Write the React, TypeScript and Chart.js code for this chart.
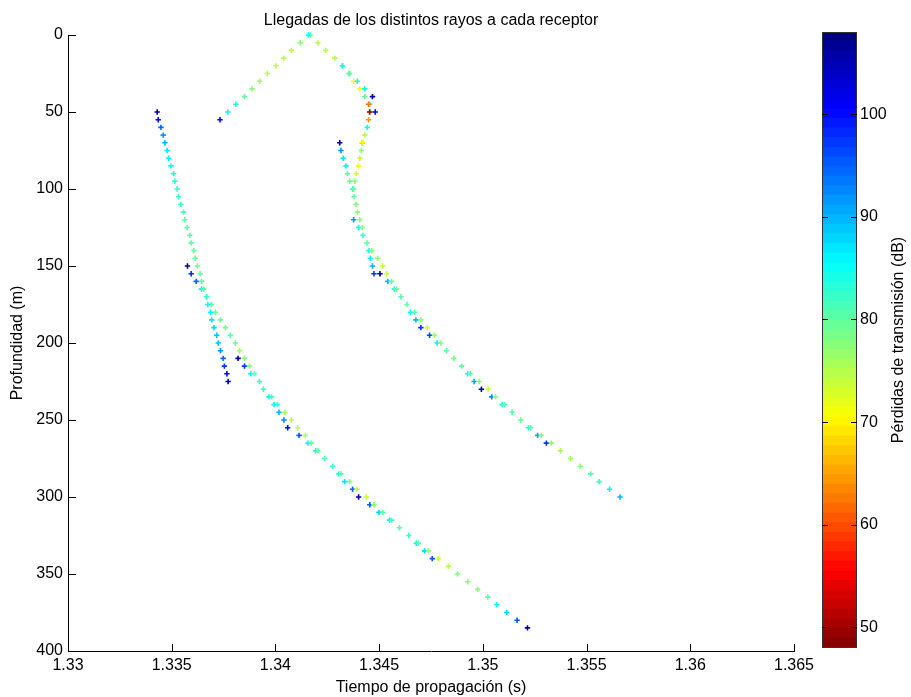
import React, { useEffect, useRef } from 'react';
import { Chart, registerables } from 'chart.js';

Chart.register(...registerables);

// ---------------- DATA ----------------
const xTicks = [1.33, 1.335, 1.34, 1.345, 1.35, 1.355, 1.36, 1.365];
const yTicks = [0, 50, 100, 150, 200, 250, 300, 350, 400];
const cbTicks = [50, 60, 70, 80, 90, 100];
const LOSS_MIN = 48;
const LOSS_MAX = 108;

// Rayo 1: rama superior izquierda
const rayo1Prof = [0, 5, 10, 15, 20, 25, 30, 35, 40, 45, 50, 55];
const rayo1Tiempo = [1.34159, 1.3412, 1.34077, 1.3404, 1.34003, 1.33961, 1.33924, 1.33887, 1.33851, 1.33809, 1.3377, 1.33733];
const rayo1Perdidas = [85, 78, 75, 75, 75, 75, 77, 78, 79, 83, 86, 100];

// Rayo 2: rama superior derecha exterior
const rayo2Prof = [0, 5, 10, 15, 20, 25, 30, 35, 40];
const rayo2Tiempo = [1.34168, 1.34205, 1.34242, 1.34286, 1.34324, 1.34354, 1.34395, 1.34431, 1.34468];
const rayo2Perdidas = [79, 75, 75, 76, 84, 80, 85, 86, 106];

// Rayo 3: curva principal derecha
const rayo3Prof = [20, 25, 30, 35, 40, 45, 50, 55, 60, 65, 70, 75, 80, 85, 90, 95, 100, 105, 110, 115, 120, 125, 130, 135, 140, 145, 150, 155, 160, 165, 170, 175, 180, 185, 190, 195, 200, 205, 210, 215, 220, 225, 230, 235, 240, 245, 250, 255, 260, 265, 270, 275, 280, 285, 290, 295, 300];
const rayo3Tiempo = [1.34322, 1.34358, 1.34377, 1.34406, 1.34431, 1.34449, 1.34454, 1.34449, 1.34443, 1.34431, 1.34419, 1.34414, 1.34407, 1.34401, 1.3439, 1.34383, 1.34377, 1.34379, 1.34388, 1.34395, 1.34407, 1.34419, 1.34422, 1.34441, 1.34465, 1.34493, 1.34517, 1.34536, 1.34559, 1.34584, 1.34605, 1.34634, 1.34671, 1.34701, 1.34732, 1.34767, 1.34797, 1.34825, 1.3486, 1.34898, 1.34939, 1.34982, 1.35026, 1.35061, 1.35104, 1.35141, 1.35183, 1.35231, 1.35282, 1.3533, 1.35374, 1.35422, 1.3547, 1.3552, 1.35561, 1.35611, 1.35661];
const rayo3Perdidas = [80, 80, 71, 71, 79, 63, 50, 64, 85, 75, 71, 78, 74, 71, 74, 78, 79, 79, 78, 78, 78, 78, 82, 79, 78, 77, 74, 74, 79, 79, 80, 79, 80, 78, 74, 77, 78, 80, 79, 80, 80, 78, 74, 78, 80, 80, 79, 80, 78, 78, 76, 77, 78, 80, 82, 86, 90];

// Rayo 4: rama interior derecha
const rayo4Prof = [70, 75, 80, 85, 90, 95, 100];
const rayo4Tiempo = [1.3431, 1.34316, 1.34327, 1.3434, 1.34347, 1.34358, 1.34372];
const rayo4Perdidas = [106, 92, 87, 86, 80, 79, 84];

// Rayo 5: llegadas adelantadas sobre la curva derecha
const rayo5Prof = [120, 125, 140, 145, 150, 155, 160, 165, 180, 185, 190, 195, 200, 220, 225, 230, 235, 240, 255, 260, 265];
const rayo5Tiempo = [1.34377, 1.34401, 1.34451, 1.34457, 1.34468, 1.34475, 1.34542, 1.34573, 1.34651, 1.34677, 1.34701, 1.34743, 1.3478, 1.34927, 1.34958, 1.34993, 1.35043, 1.35093, 1.3522, 1.35264, 1.35306];
const rayo5Perdidas = [92, 85, 85, 86, 90, 97, 90, 85, 85, 90, 97, 96, 86, 85, 91, 106, 93, 85, 84, 91, 97];

// Rayo 6: llegadas sueltas
const rayo6Prof = [45, 50, 50, 70, 155];
const rayo6Tiempo = [1.34455, 1.34459, 1.34481, 1.34419, 1.34504];
const rayo6Perdidas = [80, 79, 100, 93, 106];

// Rayo 7: curva principal izquierda
const rayo7Prof = [50, 55, 60, 65, 70, 75, 80, 85, 90, 95, 100, 105, 110, 115, 120, 125, 130, 135, 140, 145, 150, 155, 160, 165, 170, 175, 180, 185, 190, 195, 200, 205, 210, 215, 220, 225];
const rayo7Tiempo = [1.3343, 1.33435, 1.33448, 1.33459, 1.33467, 1.33478, 1.33485, 1.33496, 1.33509, 1.33515, 1.33526, 1.33533, 1.33544, 1.33557, 1.33563, 1.33574, 1.33587, 1.33594, 1.33607, 1.33613, 1.33624, 1.33637, 1.33644, 1.33655, 1.33668, 1.33674, 1.33687, 1.33693, 1.33704, 1.33717, 1.33724, 1.33735, 1.33748, 1.33754, 1.33766, 1.33772];
const rayo7Perdidas = [106, 100, 94, 92, 90, 87, 86, 85, 83, 83, 82, 82, 82, 81, 80, 80, 80, 80, 79, 79, 79, 79, 80, 80, 82, 85, 86, 87, 88, 89, 89, 92, 94, 97, 100, 105];

// Rayo 8: curva inferior izquierda
const rayo8Prof = [150, 155, 160, 165, 170, 175, 180, 185, 190, 195, 200, 205, 210, 215, 220, 225, 230, 235, 240, 245, 250, 255, 260, 265, 270, 275, 280, 285, 290, 295, 300, 305, 310, 315, 320, 325, 330, 335, 340, 345, 350, 355, 360, 365, 370, 375, 380, 385];
const rayo8Tiempo = [1.33576, 1.33594, 1.33618, 1.33644, 1.33668, 1.33692, 1.33711, 1.33735, 1.33759, 1.33783, 1.33807, 1.33827, 1.33851, 1.33875, 1.33899, 1.33923, 1.33942, 1.33981, 1.3401, 1.34046, 1.34077, 1.34107, 1.34144, 1.34173, 1.34205, 1.34237, 1.34276, 1.34316, 1.34358, 1.34393, 1.34438, 1.34475, 1.34517, 1.3456, 1.34598, 1.34643, 1.34689, 1.34738, 1.34786, 1.34834, 1.34878, 1.34927, 1.34975, 1.35024, 1.35067, 1.35115, 1.35165, 1.35215];
const rayo8Perdidas = [106, 98, 94, 87, 82, 79, 79, 79, 79, 80, 79, 77, 78, 78, 80, 82, 82, 82, 83, 76, 75, 75, 75, 79, 79, 80, 82, 80, 78, 75, 74, 78, 80, 81, 80, 82, 80, 78, 74, 75, 78, 78, 78, 80, 85, 88, 95, 106];

// Rayo 9: llegadas adelantadas sobre la curva izquierda
const rayo9Prof = [210, 215, 220, 235, 240, 245, 250, 255, 260, 265, 270, 285, 290, 295, 300, 305, 310, 315, 330, 335, 340];
const rayo9Tiempo = [1.3382, 1.33851, 1.33881, 1.33969, 1.33993, 1.34017, 1.34041, 1.34059, 1.34114, 1.34157, 1.34194, 1.34305, 1.34334, 1.34372, 1.34401, 1.34455, 1.34499, 1.3455, 1.34679, 1.34719, 1.34756];
const rayo9Perdidas = [106, 97, 86, 86, 86, 90, 93, 100, 95, 86, 86, 84, 87, 94, 106, 95, 88, 86, 86, 88, 95];

const rayos = [
  { prof: rayo1Prof, t: rayo1Tiempo, loss: rayo1Perdidas },
  { prof: rayo2Prof, t: rayo2Tiempo, loss: rayo2Perdidas },
  { prof: rayo3Prof, t: rayo3Tiempo, loss: rayo3Perdidas },
  { prof: rayo4Prof, t: rayo4Tiempo, loss: rayo4Perdidas },
  { prof: rayo5Prof, t: rayo5Tiempo, loss: rayo5Perdidas },
  { prof: rayo6Prof, t: rayo6Tiempo, loss: rayo6Perdidas },
  { prof: rayo7Prof, t: rayo7Tiempo, loss: rayo7Perdidas },
  { prof: rayo8Prof, t: rayo8Tiempo, loss: rayo8Perdidas },
  { prof: rayo9Prof, t: rayo9Tiempo, loss: rayo9Perdidas },
];

// ---------------- COLOURS ----------------
const NLEVELS = 64;
const clamp01 = (v: number) => Math.max(0, Math.min(1, v));
function jet(p: number): string {
  const r = clamp01(1.5 - Math.abs(4 * p - 3));
  const g = clamp01(1.5 - Math.abs(4 * p - 2));
  const b = clamp01(1.5 - Math.abs(4 * p - 1));
  return `rgb(${Math.round(r * 255)},${Math.round(g * 255)},${Math.round(b * 255)})`;
}
function lossColor(v: number): string {
  const p = (LOSS_MAX - v) / (LOSS_MAX - LOSS_MIN);
  const idx = Math.max(0, Math.min(NLEVELS - 1, Math.floor(p * NLEVELS)));
  return jet((idx + 0.5) / NLEVELS);
}

const FONT = "'Liberation Sans', Arial, Helvetica, sans-serif";
const font16 = { family: FONT, size: 16, weight: 'normal' as const, lineHeight: 1.2 };
const fmt = (v: number) => String(parseFloat(Number(v).toFixed(4)));

const mainTicksPlugin = {
  id: 'mainInwardTicks',
  afterDraw(chart: any) {
    const { ctx, chartArea, scales } = chart;
    ctx.save();
    ctx.strokeStyle = '#000';
    ctx.lineWidth = 1;
    ctx.beginPath();
    xTicks.forEach((v) => {
      const px = Math.round(scales.x.getPixelForValue(v)) + 0.5;
      ctx.moveTo(px, chartArea.bottom);
      ctx.lineTo(px, chartArea.bottom - 7);
    });
    yTicks.forEach((v) => {
      const py = Math.round(scales.y.getPixelForValue(v)) + 0.5;
      ctx.moveTo(chartArea.left, py);
      ctx.lineTo(chartArea.left + 8, py);
    });
    ctx.stroke();
    ctx.restore();
  },
};

const cbPlugin = {
  id: 'colorbarDecor',
  afterDraw(chart: any) {
    const { ctx, chartArea, scales } = chart;
    ctx.save();
    ctx.strokeStyle = '#333';
    ctx.lineWidth = 1;
    ctx.strokeRect(
      Math.round(chartArea.left) + 0.5,
      Math.round(chartArea.top) + 0.5,
      Math.round(chartArea.right - chartArea.left) - 1,
      Math.round(chartArea.bottom - chartArea.top) - 1
    );
    ctx.strokeStyle = '#000';
    ctx.beginPath();
    cbTicks.forEach((v) => {
      const py = Math.round(scales.y.getPixelForValue(v)) + 0.5;
      ctx.moveTo(chartArea.left, py);
      ctx.lineTo(chartArea.left + 6, py);
      ctx.moveTo(chartArea.right, py);
      ctx.lineTo(chartArea.right - 6, py);
    });
    ctx.stroke();
    ctx.fillStyle = '#000';
    ctx.font = `16px ${FONT}`;
    ctx.textAlign = 'center';
    ctx.textBaseline = 'middle';
    ctx.translate(119, (chartArea.top + chartArea.bottom) / 2);
    ctx.rotate(-Math.PI / 2);
    ctx.fillText('Pérdidas de transmisión (dB)', 0, 0);
    ctx.restore();
  },
};

export default function App() {
  const mainRef = useRef<HTMLCanvasElement>(null);
  const cbRef = useRef<HTMLCanvasElement>(null);

  useEffect(() => {
    const datasets = rayos.map((r, k) => {
      const colors = r.loss.map(lossColor);
      return {
        label: `Rayo ${k + 1}`,
        data: r.prof.map((d, i) => ({ x: r.t[i], y: d })),
        pointStyle: 'cross',
        pointRadius: 2.7,
        pointBorderWidth: 1.6,
        pointBorderColor: colors,
        pointBackgroundColor: colors,
        showLine: false,
        clip: false as any,
      };
    });

    const main = new Chart(mainRef.current as HTMLCanvasElement, {
      type: 'scatter',
      data: { datasets },
      options: {
        responsive: false,
        animation: false,
        devicePixelRatio: 1,
        layout: { padding: { left: 0, top: 0, right: 117, bottom: 0 } },
        plugins: {
          legend: { display: false },
          tooltip: { enabled: false },
          title: {
            display: true,
            fullSize: false,
            text: 'Llegadas de los distintos rayos a cada receptor',
            color: '#000',
            font: font16,
            padding: { top: 10.6, bottom: 5.2 },
          },
        },
        scales: {
          x: {
            type: 'linear',
            min: 1.33,
            max: 1.365,
            afterBuildTicks: (s: any) => {
              s.ticks = xTicks.map((v) => ({ value: v }));
            },
            afterFit: (s: any) => {
              s.height = 46;
            },
            ticks: {
              callback: (v: any) => fmt(v),
              color: '#000',
              font: font16,
              padding: 5,
              maxRotation: 0,
              autoSkip: false,
            },
            grid: { drawOnChartArea: false, drawTicks: false },
            border: { display: true, color: '#000', width: 1 },
            title: {
              display: true,
              text: 'Tiempo de propagación (s)',
              color: '#000',
              font: font16,
              padding: { top: 0, bottom: 0 },
            },
          },
          y: {
            type: 'linear',
            reverse: true,
            min: 0,
            max: 400,
            afterBuildTicks: (s: any) => {
              s.ticks = yTicks.map((v) => ({ value: v }));
            },
            afterFit: (s: any) => {
              s.width = 68;
            },
            ticks: {
              callback: (v: any) => fmt(v),
              color: '#000',
              font: font16,
              padding: 5,
              autoSkip: false,
            },
            grid: { drawOnChartArea: false, drawTicks: false },
            border: { display: true, color: '#000', width: 1 },
            title: {
              display: true,
              text: 'Profundidad (m)',
              color: '#000',
              font: font16,
              padding: { top: 8, bottom: 0 },
            },
          },
        },
      },
      plugins: [mainTicksPlugin],
    } as any);

    const step = (LOSS_MAX - LOSS_MIN) / NLEVELS;
    const bandDatasets = Array.from({ length: NLEVELS }, (_, i) => {
      const lo = LOSS_MIN + i * step;
      const hi = lo + step;
      return {
        data: [[lo, hi + 0.02]],
        backgroundColor: jet((NLEVELS - 1 - i + 0.5) / NLEVELS),
        borderWidth: 0,
        grouped: false,
        barPercentage: 1,
        categoryPercentage: 1,
      };
    });

    const cb = new Chart(cbRef.current as HTMLCanvasElement, {
      type: 'bar',
      data: { labels: ['cb'], datasets: bandDatasets },
      options: {
        responsive: false,
        animation: false,
        devicePixelRatio: 1,
        layout: { padding: { left: 42, top: 32, right: 0, bottom: 49 } },
        plugins: { legend: { display: false }, tooltip: { enabled: false }, title: { display: false } },
        scales: {
          x: { display: false },
          y: {
            type: 'linear',
            position: 'right',
            min: LOSS_MIN,
            max: LOSS_MAX,
            afterBuildTicks: (s: any) => {
              s.ticks = cbTicks.map((v) => ({ value: v }));
            },
            afterFit: (s: any) => {
              s.width = 54;
            },
            ticks: { color: '#000', font: font16, padding: 3, callback: (v: any) => fmt(v) },
            grid: { drawOnChartArea: false, drawTicks: false },
            border: { display: false },
          },
        },
      },
      plugins: [cbPlugin],
    } as any);

    return () => {
      main.destroy();
      cb.destroy();
    };
  }, []);

  return (
    <div style={{ position: 'fixed', left: 0, top: 0, width: 911, height: 697, background: '#fff' }}>
      <canvas
        ref={mainRef}
        width={911}
        height={697}
        style={{ position: 'absolute', left: 0, top: 0, width: 911, height: 697, display: 'block' }}
      />
      <canvas
        ref={cbRef}
        width={131}
        height={697}
        style={{ position: 'absolute', left: 780, top: 0, width: 131, height: 697, display: 'block' }}
      />
    </div>
  );
}
